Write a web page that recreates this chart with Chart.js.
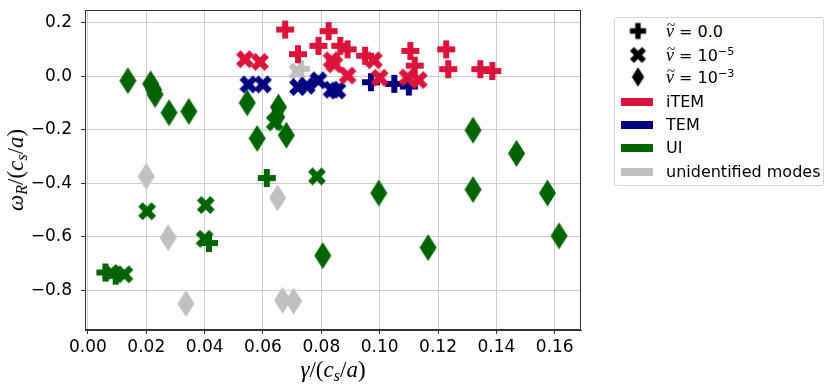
<!DOCTYPE html>
<html>
<head>
<meta charset="utf-8">
<script src="https://cdn.jsdelivr.net/npm/chart.js@4.4.0/dist/chart.umd.min.js"></script>
<style>
  body { margin: 0; background: #fff; width: 831px; height: 389px; overflow: hidden; position: relative; font-family: "DejaVu Sans", sans-serif; }
  #wrap { position: absolute; left: 0; top: 0; width: 831px; height: 389px; }
  .math { font-family: "Liberation Serif", "DejaVu Serif", serif; white-space: nowrap; position: absolute; color: #000; }
  .math sub { font-size: 0.7em; vertical-align: -0.25em; }
  #ylab { left: 17px; top: 170px; font-size: 23px; transform: translate(-50%, -50%) rotate(-90deg); }
  #xlab { left: 333px; top: 371px; font-size: 23px; transform: translate(-50%, -50%); }
  #legend { position: absolute; left: 614px; top: 17px; width: 208px; height: 167px; border: 1px solid #d5d5d5; border-radius: 3px; background: #fff; }
  .row { position: absolute; left: 0; height: 22px; width: 100%; }
  .row .mk { position: absolute; left: 23px; top: 11px; transform: translate(-50%, -50%); }
  .row .bar { position: absolute; left: 6px; top: 7px; width: 32px; height: 8px; }
  .row .txt { position: absolute; left: 51px; top: 0; font-size: 16px; line-height: 22px; white-space: nowrap; }
  .nu { position: relative; display: inline-block; font-family: "Liberation Serif", "DejaVu Serif", serif; font-style: italic; font-size: 18px; }
  .nu .tl { position: absolute; left: 1px; top: -6px; font-style: normal; font-size: 15px; }
  .row sup { font-size: 0.7em; vertical-align: 0.5em; line-height: 0; }
</style>
</head>
<body>
<div id="wrap"><canvas id="chart" width="831" height="389"></canvas></div>
<div id="ylab" class="math"><i>ω</i><sub><i>R</i></sub>/(<i>c</i><sub><i>s</i></sub>/<i>a</i>)</div>
<div id="xlab" class="math"><i>γ</i>/(<i>c</i><sub><i>s</i></sub>/<i>a</i>)</div>
<div id="legend"></div>
<script>
// axis ticks
const xTicks = [0, 0.02, 0.04, 0.06, 0.08, 0.10, 0.12, 0.14, 0.16];
const yTicks = [-0.8, -0.6, -0.4, -0.2, 0.0, 0.2];

// points as [gamma, omega_R], grouped by mode and viscosity
const itemPlus = [[0.0676, 0.175], [0.072, 0.083], [0.079, 0.114], [0.0825, 0.169], [0.0865, 0.114],
  [0.089, 0.101], [0.095, 0.077], [0.1105, 0.095], [0.112, 0.040], [0.1228, 0.101], [0.1235, 0.027],
  [0.1345, 0.027], [0.1386, 0.020]];
const itemX = [[0.0538, 0.064], [0.059, 0.054], [0.0835, 0.060], [0.0845, 0.045], [0.089, 0.003],
  [0.098, 0.060], [0.100, -0.005], [0.1095, -0.004], [0.1134, -0.014]];
const temPlus = [[0.097, -0.022], [0.105, -0.028], [0.110, -0.038]];
const temX = [[0.055, -0.030], [0.060, -0.030], [0.072, -0.040], [0.075, -0.035], [0.079, -0.015],
  [0.0835, -0.050], [0.0855, -0.053]];
const uiPlus = [[0.0613, -0.380], [0.0415, -0.623], [0.006, -0.733], [0.0095, -0.745]];
const uiX = [[0.064, -0.172], [0.0785, -0.374], [0.0203, -0.504], [0.0404, -0.481], [0.040, -0.607],
  [0.008, -0.735], [0.0125, -0.740]];
const uiDiamond = [[0.0137, -0.016], [0.0215, -0.028], [0.0225, -0.050], [0.023, -0.068], [0.0278, -0.136],
  [0.0346, -0.131], [0.0546, -0.099], [0.0653, -0.115], [0.0647, -0.152], [0.068, -0.220], [0.058, -0.232],
  [0.132, -0.201], [0.1469, -0.288], [0.0997, -0.436], [0.132, -0.423], [0.1575, -0.436], [0.1615, -0.596],
  [0.1166, -0.640], [0.0805, -0.670]];
const unidPlus = [[0.073, 0.028]];
const unidX = [[0.0718, 0.018]];
const unidDiamond = [[0.020, -0.374], [0.065, -0.454], [0.0275, -0.603], [0.0336, -0.849], [0.0667, -0.837],
  [0.0705, -0.840]];

const COLORS = { item: '#dc143c', tem: '#000080', ui: '#006400', unid: '#c0c0c0' };

// filled marker shapes like matplotlib 'P', 'X', 'd'
const makeMarker = (kind, color, scale = 1) => {
  const c = document.createElement('canvas');
  let w, h;
  if (kind === 'd') { w = 17 * scale; h = 27 * scale; } else { w = h = 18 * scale; }
  c.width = Math.ceil(w) + 2;
  c.height = Math.ceil(h) + 2;
  const ctx = c.getContext('2d');
  ctx.translate(c.width / 2, c.height / 2);
  ctx.fillStyle = color;
  ctx.beginPath();
  if (kind === 'd') {
    ctx.moveTo(0, -h / 2); ctx.lineTo(w / 2, 0); ctx.lineTo(0, h / 2); ctx.lineTo(-w / 2, 0);
  } else {
    const s = kind === 'X' ? w * 1.05 : w;
    if (kind === 'X') ctx.rotate(Math.PI / 4);
    const a = s / 6, b = s / 2;
    const pts = [[-a, -b], [a, -b], [a, -a], [b, -a], [b, a], [a, a], [a, b], [-a, b], [-a, a], [-b, a], [-b, -a], [-a, -a]];
    pts.forEach(([x, y], i) => i ? ctx.lineTo(x, y) : ctx.moveTo(x, y));
  }
  ctx.closePath();
  ctx.fill();
  return c;
};

const ds = (pts, kind, color) => ({
  data: pts.map(([x, y]) => ({ x, y })),
  pointStyle: makeMarker(kind, color),
  pointRadius: 9,
  showLine: false
});

// first dataset is drawn on top
const datasets = [
  ds(itemPlus, 'P', COLORS.item), ds(itemX, 'X', COLORS.item),
  ds(temPlus, 'P', COLORS.tem), ds(temX, 'X', COLORS.tem),
  ds(unidPlus, 'P', COLORS.unid), ds(unidX, 'X', COLORS.unid),
  ds(uiPlus, 'P', COLORS.ui), ds(uiX, 'X', COLORS.ui), ds(uiDiamond, 'd', COLORS.ui),
  ds(unidDiamond, 'd', COLORS.unid)
];

const frame = {
  id: 'frame',
  afterDatasetsDraw(chart) {
    const { ctx, chartArea: a } = chart;
    ctx.save();
    ctx.strokeStyle = '#333';
    ctx.lineWidth = 1;
    ctx.strokeRect(Math.round(a.left) + 0.5, Math.round(a.top) + 0.5, Math.round(a.right - a.left) - 1, Math.round(a.bottom - a.top) - 1);
    ctx.restore();
  }
};

const fmt = (v, d) => v.toFixed(d).replace('-', '\u2212');
const tickFont = { size: 17, family: 'DejaVu Sans' };

new Chart(document.getElementById('chart').getContext('2d'), {
  type: 'scatter',
  data: { datasets },
  options: {
    responsive: false,
    animation: false,
    layout: { padding: { left: 0, right: 250, top: 7, bottom: 0 } },
    plugins: { legend: { display: false }, tooltip: { enabled: false } },
    scales: {
      x: {
        type: 'linear', min: -0.001, max: 0.169,
        afterBuildTicks: s => { s.ticks = xTicks.map(v => ({ value: v })); },
        afterFit: s => { s.height = 59; s.paddingLeft = 0; s.paddingRight = 0; },
        ticks: { callback: v => fmt(v, 2), font: tickFont, color: '#000', padding: 3, maxRotation: 0, autoSkip: false },
        grid: { color: '#cccccc', tickLength: 4, tickColor: '#333' },
        border: { color: '#333' }
      },
      y: {
        type: 'linear', min: -0.948, max: 0.248,
        afterBuildTicks: s => { s.ticks = yTicks.map(v => ({ value: v })); },
        afterFit: s => { s.width = 85; s.paddingTop = 0; s.paddingBottom = 0; },
        ticks: { callback: v => fmt(v, 1), font: tickFont, color: '#000', padding: 9, autoSkip: false },
        grid: { color: '#cccccc', tickLength: 4, tickColor: '#333' },
        border: { color: '#333' }
      }
    }
  },
  plugins: [frame]
});

// legend
const NU = '<span class="nu">ν<span class="tl">~</span></span>';
const legendRows = [
  { marker: 'P', html: NU + ' = 0.0' },
  { marker: 'X', html: NU + ' = 10<sup>\u22125</sup>' },
  { marker: 'd', html: NU + ' = 10<sup>\u22123</sup>' },
  { bar: COLORS.item, html: 'iTEM' },
  { bar: COLORS.tem, html: 'TEM' },
  { bar: COLORS.ui, html: 'UI' },
  { bar: COLORS.unid, html: 'unidentified modes' }
];
const rowTops = [2, 26, 48, 73, 96, 119, 143];
const legend = document.getElementById('legend');
legendRows.forEach((r, i) => {
  const row = document.createElement('div');
  row.className = 'row';
  row.style.top = rowTops[i] + 'px';
  if (r.marker) {
    const m = makeMarker(r.marker, '#000', r.marker === 'd' ? 0.72 : 0.9);
    m.className = 'mk';
    row.appendChild(m);
  } else {
    const b = document.createElement('div');
    b.className = 'bar';
    b.style.background = r.bar;
    row.appendChild(b);
  }
  const t = document.createElement('div');
  t.className = 'txt';
  t.innerHTML = r.html;
  row.appendChild(t);
  legend.appendChild(row);
});
</script>
</body>
</html>
